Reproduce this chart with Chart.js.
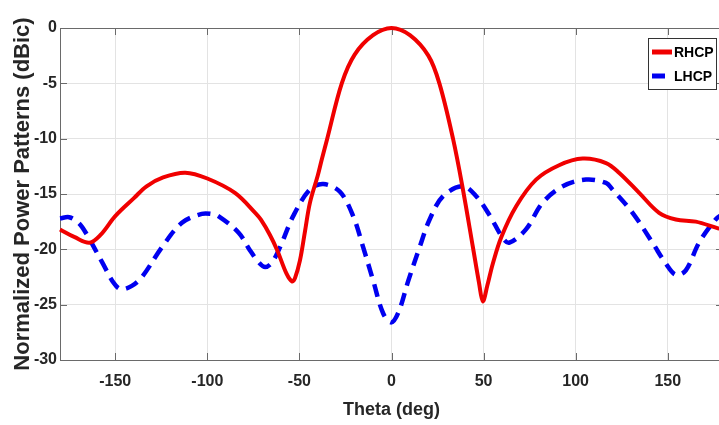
<!DOCTYPE html>
<html>
<head>
<meta charset="utf-8">
<title>RHCP / LHCP pattern</title>
<script src="https://cdn.jsdelivr.net/npm/chart.js@4.4.1/dist/chart.umd.min.js"></script>
<style>
    html, body { margin: 0; padding: 0; background: #fff; overflow: hidden; }
    #wrap { width: 724px; height: 425px; }
</style>
</head>
<body>
<div id="wrap"><canvas id="pattern-chart" width="724" height="425"></canvas></div>
<script>
// values
const rhcpTheta = [-180, -172, -164, -158, -150, -140, -133, -124, -112, -100, -85, -74, -71, -66, -62, -57, -54, -52.4, -49.7, -47, -44.3, -40, -37.9, -34.9, -27, -20, -10, 0, 10, 20, 26, 33.4, 38.8, 44.2, 47.5, 49.6, 52, 55, 59.6, 67.7, 78.5, 91, 103.8, 116.5, 123.7, 134.5, 145.3, 154.4, 165.2, 177.3, 180];
const rhcpGain = [-18.2, -18.9, -19.4, -18.7, -17.0, -15.4, -14.3, -13.5, -13.07, -13.6, -14.9, -16.7, -17.3, -18.7, -20.1, -22.2, -22.9, -22.6, -21.0, -18.4, -15.8, -13.3, -11.9, -10.0, -5.0, -2.4, -0.65, 0, -0.65, -2.5, -5.0, -10.0, -14.6, -19.8, -23.0, -24.7, -23.3, -21.3, -18.9, -16.1, -13.7, -12.4, -11.8, -12.2, -13.1, -14.9, -16.7, -17.3, -17.5, -18.1, -18.2];

const lhcpTheta = [-180, -175, -170, -166, -157, -151, -147, -141, -135.5, -124.6, -113.8, -103, -98, -94, -83, -76.8, -72, -68.6, -65, -60.5, -53.4, -44.3, -37, -28, -20.8, -15.4, -10, -4.5, 0, 4, 9, 15.3, 20.7, 28, 38.8, 46, 53.2, 60.5, 64, 73, 82, 93, 105.6, 116.5, 120, 130.9, 141.7, 149, 154.4, 159.8, 167, 176, 180];
const lhcpGain = [-17.2, -17.1, -17.6, -18.5, -21.2, -23.0, -23.6, -23.3, -22.5, -19.8, -17.6, -16.8, -16.8, -17.0, -18.5, -20.1, -21.2, -21.6, -21.2, -19.8, -17.0, -14.6, -14.1, -14.8, -17.0, -19.8, -22.8, -25.8, -26.6, -25.6, -22.9, -19.8, -17.3, -15.2, -14.3, -15.2, -16.9, -19.0, -19.4, -18.2, -15.8, -14.3, -13.7, -14.0, -14.6, -16.7, -19.4, -21.3, -22.3, -21.9, -19.4, -17.3, -16.8];

const xTicks = [-150, -100, -50, 0, 50, 100, 150];
const yTicks = [-30, -25, -20, -15, -10, -5, 0];

const sans = "'Liberation Sans', Arial, sans-serif";
const textColor = '#262626';

function toPoints(theta, gain) {
    return theta.map((t, i) => ({ x: t, y: gain[i] }));
}

// box around the plot plus the little inward tick marks
const framePlugin = {
    id: 'frame',
    beforeDatasetsDraw(chart) {
        const { ctx, chartArea: a, scales } = chart;
        ctx.save();
        ctx.strokeStyle = '#6a6a6a';
        ctx.lineWidth = 1;
        ctx.strokeRect(a.left + 0.5, a.top + 0.5, a.right - a.left, a.bottom - a.top);
        ctx.beginPath();
        xTicks.forEach(v => {
            const px = Math.round(scales.x.getPixelForValue(v)) + 0.5;
            ctx.moveTo(px, a.top); ctx.lineTo(px, a.top + 7);
            ctx.moveTo(px, a.bottom); ctx.lineTo(px, a.bottom - 7);
        });
        yTicks.forEach(v => {
            const py = Math.round(scales.y.getPixelForValue(v)) + 0.5;
            ctx.moveTo(a.left, py); ctx.lineTo(a.left + 7, py);
            ctx.moveTo(a.right, py); ctx.lineTo(a.right - 7, py);
        });
        ctx.stroke();
        ctx.restore();
    }
};

// legend box in the upper right corner
const legendPlugin = {
    id: 'boxLegend',
    afterDraw(chart) {
        const ctx = chart.ctx;
        const sets = chart.data.datasets;
        ctx.save();
        ctx.fillStyle = '#fff';
        ctx.fillRect(648, 38, 68, 51);
        ctx.strokeStyle = '#333';
        ctx.lineWidth = 1;
        ctx.strokeRect(648.5, 38.5, 68, 51);
        sets.forEach((ds, i) => {
            const y = 52 + i * 24;
            ctx.strokeStyle = ds.borderColor;
            ctx.lineWidth = 5;
            ctx.beginPath();
            ctx.moveTo(652, y);
            ctx.lineTo(ds.borderDash ? 665 : 672, y);
            ctx.stroke();
            ctx.fillStyle = '#000';
            ctx.font = "bold 14px " + sans;
            ctx.textBaseline = 'middle';
            ctx.fillText(ds.label, 674, y + 1);
        });
        ctx.restore();
    }
};

const ctx = document.getElementById('pattern-chart').getContext('2d');
new Chart(ctx, {
    type: 'line',
    data: {
        datasets: [{
            label: 'RHCP',
            data: toPoints(rhcpTheta, rhcpGain),
            borderColor: '#f00000',
            borderWidth: 4,
            pointRadius: 0,
            tension: 0.35,
            clip: 4
        }, {
            label: 'LHCP',
            data: toPoints(lhcpTheta, lhcpGain),
            borderColor: '#0000f0',
            borderWidth: 4.5,
            borderDash: [13, 8],
            pointRadius: 0,
            tension: 0.35,
            clip: 4
        }]
    },
    options: {
        responsive: false,
        animation: false,
        layout: { padding: { top: 28, right: 1, left: 0, bottom: 0 } },
        scales: {
            x: {
                type: 'linear',
                min: -180,
                max: 180,
                afterBuildTicks: scale => { scale.ticks = xTicks.map(v => ({ value: v })); },
                afterFit: scale => { scale.height = 65; },
                grid: { color: '#e3e3e3', drawTicks: false },
                border: { display: false },
                ticks: { padding: 12, color: textColor, font: { family: sans, size: 16, weight: 'bold' } },
                title: {
                    display: true,
                    text: 'Theta (deg)',
                    color: textColor,
                    font: { family: sans, size: 18, weight: 'bold' },
                    padding: { top: 0, bottom: 4 }
                }
            },
            y: {
                min: -30,
                max: 0,
                afterBuildTicks: scale => { scale.ticks = yTicks.map(v => ({ value: v })); },
                afterFit: scale => { scale.width = 60; },
                grid: { color: '#e3e3e3', drawTicks: false },
                border: { display: false },
                ticks: { padding: 3, color: textColor, font: { family: sans, size: 16, weight: 'bold' } },
                title: {
                    display: true,
                    text: 'Normalized Power Patterns (dBic)',
                    color: textColor,
                    font: { family: sans, size: 22, weight: 'bold' },
                    padding: { top: 10, bottom: 0 }
                }
            }
        },
        plugins: {
            legend: { display: false },
            tooltip: { enabled: false }
        }
    },
    plugins: [framePlugin, legendPlugin]
});
</script>
</body>
</html>
